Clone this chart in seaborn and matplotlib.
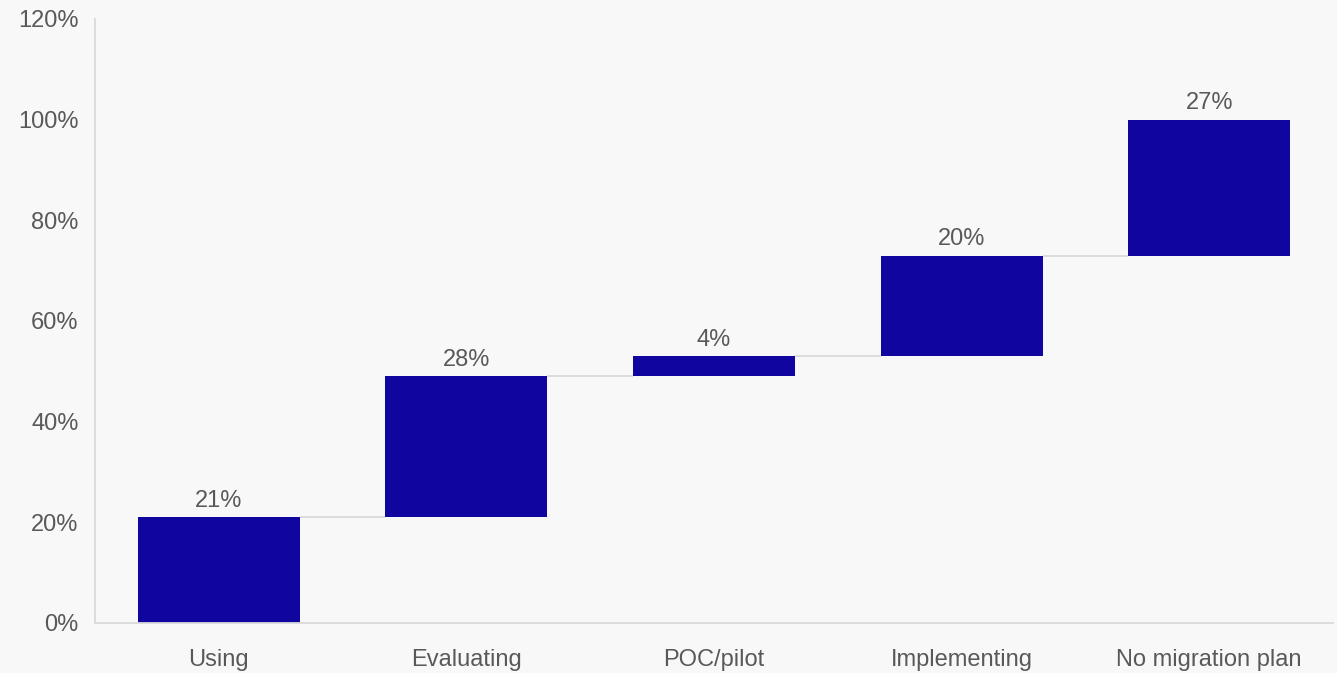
import numpy as np
import pandas as pd
import matplotlib
matplotlib.use("Agg")
import matplotlib.pyplot as plt
from matplotlib.ticker import PercentFormatter
import seaborn as sns

categories = ["Using", "Evaluating", "POC/pilot", "Implementing", "No migration plan"]
shares = [21, 28, 4, 20, 27]
y_ticks = [0, 20, 40, 60, 80, 100, 120]

BG = "#f8f8f8"
BAR = "#10069f"
TEXT = "#595959"
LINE = "#d9d9d9"

sns.set_theme(style="white")
plt.rcParams["font.family"] = ["Liberation Sans", "DejaVu Sans"]

ends = np.cumsum(shares)
starts = ends - np.array(shares)
df = pd.DataFrame({"stage": categories, "share": shares, "start": starts})

fig = plt.figure(figsize=(13.37, 6.73), dpi=100, facecolor=BG)
ax = fig.add_axes([0.0711, 0.0743, 0.9259, 0.8975], facecolor=BG)

sns.barplot(data=df, x="stage", y="share", bottom=df["start"].to_numpy(),
            color=BAR, saturation=1, width=0.654, ax=ax, edgecolor="none")

patches = sorted(ax.patches, key=lambda p: p.get_x())
for i, (p, val, top) in enumerate(zip(patches, shares, ends)):
    cx = p.get_x() + p.get_width() / 2
    ax.annotate(f"{val}%", (cx, top), xytext=(0, 4), textcoords="offset points",
                ha="center", va="bottom", fontsize=17, color=TEXT)
    if i < len(patches) - 1:
        nxt = patches[i + 1]
        ax.plot([p.get_x() + p.get_width(), nxt.get_x()], [top, top],
                color=LINE, lw=1.3, solid_capstyle="butt", zorder=1)

ax.set_xlim(-0.5, len(categories) - 0.5)
ax.set_ylim(0, 120)
ax.set_yticks(y_ticks)
ax.yaxis.set_major_formatter(PercentFormatter(decimals=0))
ax.set_xlabel("")
ax.set_ylabel("")
ax.tick_params(axis="y", length=0, pad=12, labelsize=17, labelcolor=TEXT)
ax.tick_params(axis="x", length=0, pad=19, labelsize=17, labelcolor=TEXT)

for side in ["top", "right"]:
    ax.spines[side].set_visible(False)
for side in ["left", "bottom"]:
    ax.spines[side].set_color(LINE)
    ax.spines[side].set_linewidth(1.3)

fig.savefig("out.png", dpi=100, facecolor=BG)
